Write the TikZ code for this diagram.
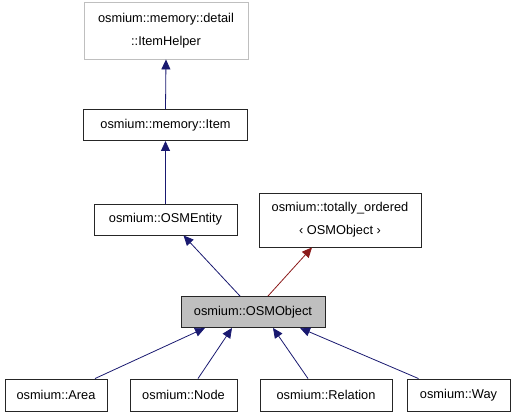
\documentclass[tikz,border=0pt]{standalone}
\usepackage{fontspec}
\setmainfont{Liberation Sans}
\usetikzlibrary{arrows.meta,calc}
\definecolor{edgeblue}{HTML}{191970}
\definecolor{edgered}{HTML}{8B1A1A}
\definecolor{boxgrey}{HTML}{BFBFBF}
\tikzset{
  cls/.style={draw=black!85, line width=0.9pt, fill=white, inner sep=0pt, align=center,
    font=\fontsize{12.8}{23}\selectfont, minimum height=31pt},
  inh/.style={draw=edgeblue, line width=0.8pt, -{Triangle[length=10pt,width=9pt]}},
  inhred/.style={draw=edgered, line width=0.8pt, -{Triangle[length=10pt,width=9pt]}},
}
\begin{document}
\begin{tikzpicture}[x=1pt,y=-1pt]
\useasboundingbox (0,0) rectangle (515,419);
\node[cls, draw=boxgrey, minimum width=164pt, minimum height=57pt] (helper) at (166,30.5) {osmium::memory::detail\\::ItemHelper};
\node[cls, minimum width=164pt] (item) at (165.5,125) {osmium::memory::Item};
\node[cls, minimum width=143pt] (ent) at (165.5,219.5) {osmium::OSMEntity};
\node[cls, minimum width=162pt, minimum height=54pt] (tot) at (340,220) {osmium::totally\_ordered\\‹ OSMObject ›};
\node[cls, fill=boxgrey, minimum width=144pt] (obj) at (253,312) {osmium::OSMObject};
\node[cls, minimum width=102pt, minimum height=32pt] (area) at (56,395) {osmium::Area};
\node[cls, minimum width=107pt, minimum height=32pt] (nd) at (183.5,395) {osmium::Node};
\node[cls, minimum width=132pt, minimum height=32pt] (rel) at (326,395) {osmium::Relation};
\node[cls, minimum width=103pt, minimum height=32pt] (way) at (458.5,395) {osmium::Way};

\draw[inh] (item.north) -- (helper.south);
\draw[inh] (ent.north) -- (item.south);
\draw[inh] ([xshift=-13pt]obj.north) -- ([xshift=18pt]ent.south);
\draw[inhred] ([xshift=15pt]obj.north) -- ([xshift=-28pt]tot.south);
\draw[inh] ([xshift=39pt]area.north) -- ([xshift=-48pt]obj.south);
\draw[inh] ([xshift=14.5pt]nd.north) -- ([xshift=-21pt]obj.south);
\draw[inh] ([xshift=-18pt]rel.north) -- ([xshift=20pt]obj.south);
\draw[inh] ([xshift=-40pt]way.north) -- ([xshift=47pt]obj.south);
\end{tikzpicture}
\end{document}
